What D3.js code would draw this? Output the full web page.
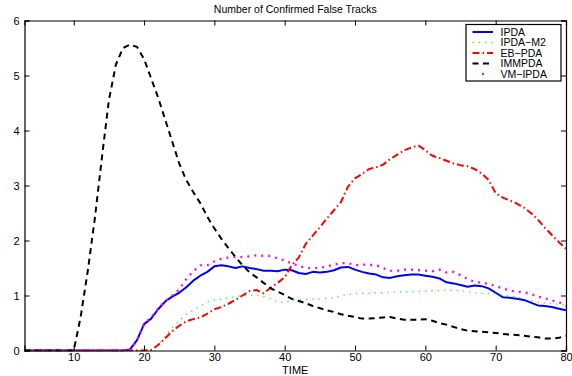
<!DOCTYPE html>
<html><head><meta charset="utf-8">
<script src="https://cdn.jsdelivr.net/npm/d3@7"></script>
<style>body{margin:0;background:#fff}svg{display:block}text{font-family:"Liberation Sans",Arial,sans-serif}</style>
</head><body>
<script>
const time = d3.range(3, 81);
const ipda = [0,0,0,0,0,0,0,0,0,0,0,0,0,0,0,0.02,0.19,0.48,0.58,0.75,0.89,0.98,1.05,1.15,1.27,1.36,1.43,1.53,1.55,1.53,1.50,1.53,1.50,1.48,1.45,1.45,1.44,1.47,1.46,1.41,1.39,1.43,1.42,1.43,1.46,1.51,1.52,1.47,1.43,1.40,1.38,1.33,1.32,1.35,1.37,1.38,1.38,1.36,1.34,1.31,1.24,1.22,1.19,1.16,1.18,1.17,1.13,1.05,0.97,0.96,0.94,0.92,0.87,0.82,0.81,0.79,0.76,0.73];
const ipdaM2 = [0,0,0,0,0,0,0,0,0,0,0,0,0,0,0,0,0,0,0.01,0.1,0.26,0.42,0.54,0.66,0.73,0.81,0.88,0.92,0.93,0.96,0.98,1.0,1.0,1.01,0.98,0.94,0.88,0.87,0.91,0.92,0.93,0.94,0.94,0.95,0.96,0.99,1.02,1.03,1.04,1.04,1.05,1.05,1.06,1.06,1.07,1.07,1.07,1.08,1.09,1.09,1.1,1.1,1.09,1.07,1.05,1.04,1.04,1.03,1.01,0.99,0.97,0.94,0.91,0.88,0.86,0.85,0.84,0.83];
const ebpda = [0,0,0,0,0,0,0,0,0,0,0,0,0,0,0,0,0,0,0.01,0.1,0.22,0.35,0.45,0.53,0.57,0.6,0.67,0.75,0.79,0.85,0.92,1.0,1.08,1.1,1.04,1.14,1.23,1.33,1.55,1.69,1.94,2.09,2.24,2.4,2.55,2.7,2.98,3.13,3.21,3.3,3.33,3.38,3.48,3.56,3.64,3.69,3.73,3.64,3.54,3.5,3.45,3.4,3.37,3.35,3.3,3.22,3.1,2.86,2.78,2.73,2.67,2.6,2.5,2.38,2.23,2.1,1.97,1.85];
const immpda = [0,0,0,0,0,0,0,0,0.62,1.45,2.4,3.5,4.55,5.2,5.5,5.56,5.52,5.3,4.95,4.6,4.2,3.8,3.4,3.1,2.88,2.68,2.43,2.22,2.03,1.86,1.7,1.55,1.42,1.33,1.23,1.13,1.07,1.01,0.94,0.9,0.86,0.81,0.77,0.73,0.7,0.66,0.63,0.61,0.58,0.58,0.59,0.6,0.61,0.58,0.56,0.56,0.56,0.57,0.54,0.5,0.47,0.43,0.39,0.36,0.35,0.34,0.33,0.32,0.3,0.29,0.28,0.27,0.25,0.24,0.22,0.22,0.23,0.27];
const vmipda = [0,0,0,0,0,0,0,0,0,0,0,0,0,0,0,0,0.19,0.48,0.6,0.76,0.9,1.0,1.11,1.3,1.44,1.55,1.55,1.62,1.67,1.69,1.70,1.70,1.71,1.73,1.72,1.72,1.67,1.64,1.58,1.54,1.5,1.5,1.5,1.53,1.56,1.59,1.59,1.55,1.56,1.56,1.55,1.5,1.45,1.45,1.47,1.47,1.46,1.45,1.44,1.47,1.42,1.43,1.37,1.3,1.25,1.23,1.21,1.17,1.13,1.09,1.07,1.06,1.03,0.98,0.95,0.91,0.88,0.81];
const seriesNames = ["IPDA","IPDA\u2212M2","EB\u2212PDA","IMMPDA","VM\u2212IPDA"];
const xTicks = [10,20,30,40,50,60,70,80];
const yTicks = [0,1,2,3,4,5,6];
const title = "Number of Confirmed False Tracks";
const xLabel = "TIME";

const W = 572, H = 376;
const L = 24.5, R = 566, T = 20.5, B = 350.5;
const svg = d3.select("body").append("svg").attr("width", W).attr("height", H);
const x = d3.scaleLinear().domain([3, 80]).range([L, R]);
const y = d3.scaleLinear().domain([0, 6]).range([B, T]);

const styles = [
  {color:"#0000ff", width:2, dash:null},
  {color:"#33ee33", width:1.3, dash:"1.3,5"},
  {color:"#ff0000", width:2, dash:"7,3,1.5,3"},
  {color:"#000000", width:2, dash:"6,4.5"},
  {color:"#ff00ff", width:2.2, dash:"2,5"}
];
const allData = [ipda, ipdaM2, ebpda, immpda, vmipda];

svg.append("clipPath").attr("id","c").append("rect")
  .attr("x",L).attr("y",T-2).attr("width",R-L).attr("height",B-T+3);

const line = d3.line().x((d,i)=>x(time[i])).y(d=>y(d));
const g = svg.append("g").attr("clip-path","url(#c)");
allData.forEach((data, k) => {
  const s = styles[k];
  g.append("path").datum(data).attr("d", line)
    .attr("fill","none").attr("stroke", s.color).attr("stroke-width", s.width)
    .attr("stroke-dasharray", s.dash).attr("stroke-linejoin","round");
});

const fmt = d3.format("d");
const axB = svg.append("g").attr("transform",`translate(0,${B})`)
  .call(d3.axisBottom(x).tickValues(xTicks).tickSize(-5).tickPadding(3).tickFormat(fmt));
const axT = svg.append("g").attr("transform",`translate(0,${T})`)
  .call(d3.axisTop(x).tickValues(xTicks).tickSize(-5).tickFormat(""));
const axL = svg.append("g").attr("transform",`translate(${L},0)`)
  .call(d3.axisLeft(y).tickValues(yTicks).tickSize(-5).tickPadding(5).tickFormat(fmt));
const axR = svg.append("g").attr("transform",`translate(${R},0)`)
  .call(d3.axisRight(y).tickValues(yTicks).tickSize(-5).tickFormat(""));
[axB, axT, axL, axR].forEach(a => {
  a.select(".domain").attr("stroke","#000").attr("stroke-width",1.2);
  a.selectAll(".tick line").attr("stroke","#000");
  a.selectAll("text").attr("font-size",11).attr("fill","#000").style("font-family","Liberation Sans, Arial, sans-serif");
});

svg.append("text").attr("x",(L+R)/2).attr("y",13).attr("text-anchor","middle")
  .attr("font-size",10.5).text(title);
svg.append("text").attr("x",(L+R)/2).attr("y",374).attr("text-anchor","middle")
  .attr("font-size",11).text(xLabel);

const lg = svg.append("g");
lg.append("rect").attr("x",466).attr("y",24.5).attr("width",95).attr("height",56.5)
  .attr("fill","#fff").attr("stroke","#000").attr("stroke-width",1.2);
seriesNames.forEach((n, k) => {
  const s = styles[k];
  const yy = 32 + k*10.5;
  if (k === 4) {
    lg.append("rect").attr("x",482).attr("y",yy-1).attr("width",2).attr("height",2).attr("fill",s.color);
  } else {
    lg.append("line").attr("x1",472.5).attr("x2",493).attr("y1",yy).attr("y2",yy)
      .attr("stroke",s.color).attr("stroke-width",s.width).attr("stroke-dasharray",s.dash);
  }
  lg.append("text").attr("x",500.5).attr("y",yy+3.8).attr("font-size",10.5).text(n);
});
</script>
</body></html>
